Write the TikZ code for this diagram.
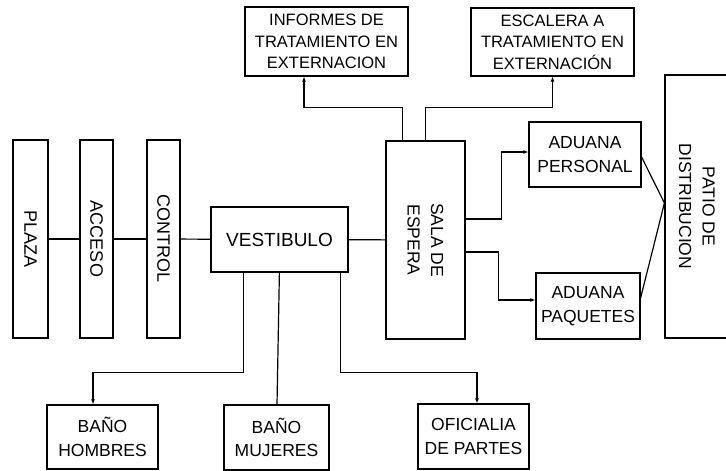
\documentclass[tikz,border=0pt]{standalone}
\usepackage{fontspec}
\setmainfont{Liberation Sans}
\usetikzlibrary{arrows.meta}
\begin{document}
\begin{tikzpicture}[x=1pt,y=-1pt,
  box/.style={draw, line width=1.2pt, inner sep=0pt, align=center,
    font=\fontsize{17.5}{23.5}\selectfont},
  vbox/.style={box, rotate=-90},
  smallbox/.style={box, font=\fontsize{16.5}{21.5}\selectfont},
  con/.style={line width=1.2pt},
  arr/.style={con, -{Latex[length=5pt,width=4pt]}}]
\useasboundingbox (0,0) rectangle (726,471);
% vertical blocks (rotated: node south west = drawn top left)
\node[vbox, minimum width=198pt, minimum height=35pt, font=\fontsize{18}{23}\selectfont] (plaza) at (30.5,239) {PLAZA};
\node[vbox, minimum width=198pt, minimum height=33pt, font=\fontsize{18}{23}\selectfont] (acceso) at (96.5,239) {ACCESO};
\node[vbox, minimum width=198pt, minimum height=33pt, font=\fontsize{18}{23}\selectfont] (control) at (163.5,239) {CONTROL};
\node[box, minimum width=137pt, minimum height=65pt, font=\fontsize{19}{23}\selectfont] (vest) at (279.5,239.5) {VESTIBULO};
\node[vbox, minimum width=198pt, minimum height=79pt] (sala) at (425.5,240) {SALA DE\\ESPERA};
\node[smallbox, minimum width=163pt, minimum height=69pt] (informes) at (326.5,41.5) {INFORMES DE\\TRATAMIENTO EN\\EXTERNACION};
\node[smallbox, minimum width=163pt, minimum height=68pt] (escalera) at (552.5,42) {ESCALERA A\\TRATAMIENTO EN\\EXTERNACIÓN};
\node[box, minimum width=112pt, minimum height=65pt] (adper) at (585,154.5) {ADUANA\\PERSONAL};
\node[box, minimum width=104pt, minimum height=66pt] (adpaq) at (588,306) {ADUANA\\PAQUETES};
\node[vbox, minimum width=263pt, minimum height=64pt] (patio) at (697,206.5) {PATIO DE\\DISTRIBUCION};
\node[box, minimum width=111pt, minimum height=64pt] (banoh) at (102.5,437) {BAÑO\\HOMBRES};
\node[box, minimum width=105pt, minimum height=65pt] (banom) at (276.5,437.5) {BAÑO\\MUJERES};
\node[box, minimum width=111pt, minimum height=65pt] (ofi) at (473.5,436.5) {OFICIALIA\\DE PARTES};
% connectors
\draw[con] (plaza) -- (acceso);
\draw[con] (acceso) -- (control);
\draw[con] (control) -- (vest);
\draw[con] (vest) -- (sala);
\draw[arr] ([xshift=17pt]sala.south west) -- ++(0,-33) -| ([xshift=-22.5pt]informes.south);
\draw[arr] ([xshift=40pt]sala.south west) -- ++(0,-33) -| (escalera.south);
\draw[arr] ([yshift=21pt]sala.north) -- ++(36,0) |- ([yshift=2.5pt]adper.west);
\draw[arr] ([yshift=-12pt]sala.north) -- ++(33,0) |- ([yshift=6pt]adpaq.west);
\draw[con] ([yshift=-2.5pt]adper.east) -- ([yshift=3.5pt]patio.south);
\draw[con] ([yshift=8pt]adpaq.east) -- ([yshift=3.5pt]patio.south);
\draw[arr] ([xshift=33pt]vest.south west) -- ++(0,100) -| ([xshift=-9.5pt]banoh.north);
\draw[con] ([xshift=69pt]vest.south west) -- ([xshift=0.5pt]banom.north);
\draw[arr] ([xshift=130pt]vest.south west) -- ++(0,100) -| ([xshift=3.5pt]ofi.north);
\end{tikzpicture}
\end{document}
